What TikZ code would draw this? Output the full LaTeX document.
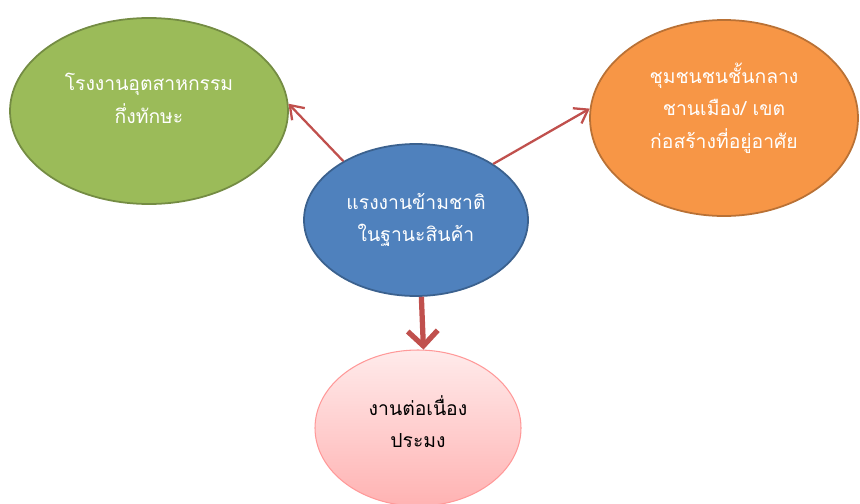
\documentclass[tikz,border=0pt]{standalone}
\usepackage{fontspec}
\newfontfamily\thaifont[Script=Thai]{Loma}
\usetikzlibrary{shapes.geometric,arrows.meta}
\definecolor{factgreen}{HTML}{9BBB59}
\definecolor{commorange}{HTML}{F79646}
\definecolor{labourblue}{HTML}{4F81BD}
\definecolor{arrowred}{HTML}{C0504D}
\begin{document}
\begin{tikzpicture}
        \tikzstyle{every node}=[ellipse, line width=1pt, align=center, font=\thaifont\fontsize{11}{18.5}\selectfont, text=white]
        \tikzstyle{link}=[arrowred, line width=1.3pt, -{Straight Barb[length=2.5mm,width=3.5mm]}]

        \useasboundingbox (0,0) rectangle (17.2,10.06);

        \node[fill=factgreen, draw=factgreen!75!black, text depth=0.5cm, minimum width=5.56cm, minimum height=3.72cm] (factory) at (2.98,7.84) {โรงงานอุตสาหกรรม \\ กึ่งทักษะ};
        \node[fill=commorange, draw=commorange!75!black, text depth=0.5cm, minimum width=5.36cm, minimum height=3.92cm] (suburb) at (14.48,7.70) {ชุมชนชนชั้นกลาง \\ ชานเมือง/ เขต \\ ก่อสร้างที่อยู่อาศัย};
        \node[fill=labourblue, draw=labourblue!75!black, minimum width=4.48cm, minimum height=3.04cm] (labour) at (8.32,5.66) {แรงงานข้ามชาติ \\ ในฐานะสินค้า};
        \node[top color=red!8, bottom color=red!30, draw=red!40, line width=0.6pt, text=black, text depth=0.25cm, minimum width=4.12cm, minimum height=3.12cm] (fishery) at (8.36,1.50) {งานต่อเนื่อง \\ ประมง};

        \draw[link] (labour.141) -- (factory.3);
        \draw[link] (labour.36) -- (suburb.176);
        \draw[link, line width=3pt, -{Straight Barb[length=3mm,width=6mm]}] (labour.274) -- (fishery.86);
\end{tikzpicture}
\end{document}
